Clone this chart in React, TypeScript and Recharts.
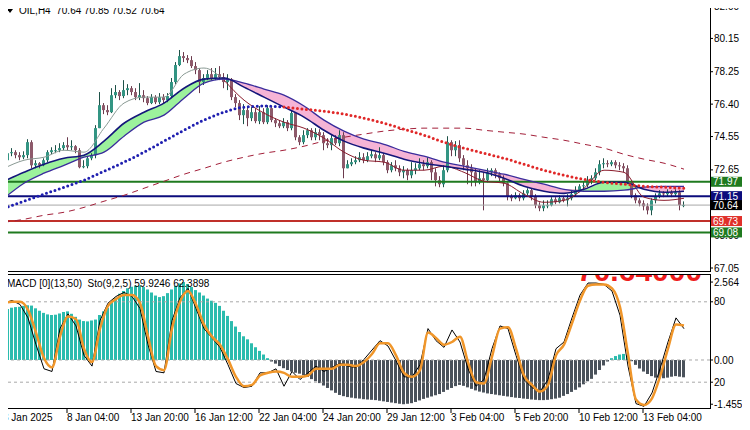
import { ComposedChart, Bar, Line, Area, XAxis, YAxis, ReferenceLine, Cell } from 'recharts';

// OIL H4 candles, 3 Jan - 13 Feb 2025 (open = previous close)
const firstOpen = 72.51;
const closes = [
  73.20, 73.60, 73.66, 73.49, 73.37, 73.49, 74.23, 72.91, 73.03, 72.91,
  73.20, 73.66, 73.77, 73.77, 73.89, 74.06, 73.94, 74.00, 73.77, 72.80,
  72.86, 73.31, 73.49, 75.03, 76.34, 76.06, 75.94, 76.91, 77.09, 76.86,
  77.20, 77.31, 77.09, 76.80, 76.91, 76.74, 76.46, 76.80, 76.51, 76.80,
  76.63, 76.86, 77.66, 78.63, 79.14, 79.03, 78.91, 78.57, 78.34, 77.66,
  77.89, 78.11, 77.89, 78.11, 77.94, 77.66, 77.83, 76.80, 76.46, 75.77,
  76.06, 75.60, 75.94, 75.43, 75.94, 75.37, 76.17, 75.49, 75.31, 75.14,
  75.37, 75.03, 75.89, 74.51, 74.23, 74.63, 74.91, 74.51, 74.80, 74.63,
  74.17, 74.06, 74.46, 74.17, 74.63, 72.74, 72.97, 73.09, 73.20, 73.37,
  73.20, 73.43, 73.54, 73.31, 73.49, 73.09, 72.63, 72.91, 72.74, 72.51,
  72.63, 72.34, 72.63, 72.74, 72.97, 72.86, 73.09, 72.51, 72.06, 71.83,
  72.63, 74.23, 73.77, 74.06, 73.31, 72.91, 72.74, 72.51, 71.94, 72.17,
  72.06, 72.51, 72.63, 72.40, 72.17, 71.89, 71.14, 71.03, 71.20, 71.03,
  71.31, 71.49, 71.14, 70.63, 70.46, 70.63, 70.63, 70.97, 70.80, 71.03,
  70.91, 71.03, 71.26, 71.49, 71.71, 71.77, 72.06, 72.17, 72.51, 72.97,
  73.03, 72.97, 73.09, 72.91, 72.86, 72.74, 71.94, 71.20, 70.91, 70.74,
  70.57, 70.34, 70.91, 71.14, 71.31, 71.26, 71.37, 71.26, 71.37, 70.64,
  70.64,
];
const highs = [
  73.49, 73.77, 73.89, 73.77, 73.66, 73.71, 74.40, 74.34, 73.20, 73.09,
  73.31, 73.77, 73.94, 74.06, 74.17, 74.23, 74.51, 74.34, 74.06, 73.89,
  73.20, 73.43, 73.60, 75.20, 77.09, 76.46, 76.34, 77.31, 77.49, 77.20,
  77.77, 77.54, 77.43, 77.31, 77.60, 77.20, 76.86, 76.97, 76.91, 77.03,
  76.97, 77.03, 77.89, 78.80, 79.49, 79.37, 79.20, 79.14, 78.80, 78.46,
  78.11, 78.34, 78.46, 78.46, 78.57, 78.17, 78.11, 77.89, 76.97, 76.63,
  76.40, 76.29, 76.23, 76.17, 76.29, 76.17, 76.34, 76.23, 75.60, 75.49,
  75.60, 75.49, 76.06, 75.94, 74.63, 74.91, 75.03, 75.03, 75.03, 74.97,
  74.80, 74.46, 74.63, 74.63, 74.91, 74.80, 73.20, 73.31, 73.43, 73.66,
  73.60, 73.66, 73.77, 73.66, 73.94, 73.60, 73.20, 73.09, 73.20, 72.91,
  72.86, 72.74, 73.09, 73.03, 73.31, 73.20, 73.37, 73.20, 72.74, 72.29,
  72.91, 74.57, 74.34, 74.29, 74.34, 73.49, 73.20, 72.97, 72.74, 72.63,
  72.51, 72.74, 72.74, 72.74, 72.51, 72.34, 71.94, 71.26, 71.37, 71.31,
  71.49, 71.60, 71.60, 71.26, 70.80, 70.91, 70.91, 71.09, 71.09, 71.20,
  71.14, 71.26, 71.49, 71.71, 71.83, 72.00, 72.29, 72.34, 72.74, 73.20,
  73.31, 73.20, 73.20, 73.20, 73.09, 73.03, 72.91, 72.06, 71.31, 71.03,
  70.91, 70.74, 71.03, 71.31, 71.49, 71.43, 71.54, 71.49, 71.54, 71.49,
  70.85,
];
const lows = [
  72.34, 73.09, 73.43, 73.31, 73.20, 73.26, 73.31, 72.74, 72.74, 72.74,
  72.86, 73.09, 73.54, 73.60, 73.66, 73.77, 73.77, 73.77, 73.60, 72.74,
  72.74, 72.74, 73.20, 73.31, 75.03, 75.83, 75.77, 75.89, 76.74, 76.63,
  76.74, 76.91, 76.91, 76.63, 76.63, 76.51, 76.34, 76.40, 76.40, 76.40,
  76.46, 76.51, 76.74, 77.54, 78.57, 78.80, 78.74, 78.46, 78.11, 77.03,
  77.49, 77.77, 77.77, 77.77, 77.77, 77.31, 77.20, 76.63, 76.23, 75.49,
  75.26, 75.14, 75.43, 75.31, 75.26, 75.26, 75.26, 75.37, 75.09, 75.03,
  75.03, 74.86, 74.91, 74.34, 74.06, 74.11, 74.46, 74.34, 74.34, 74.34,
  73.77, 73.89, 73.77, 74.06, 74.00, 72.17, 72.74, 72.86, 72.97, 73.09,
  73.03, 73.09, 73.31, 73.09, 73.20, 72.91, 72.46, 72.51, 72.57, 72.29,
  72.17, 72.06, 72.17, 72.40, 72.63, 72.63, 72.74, 72.06, 71.71, 71.66,
  71.66, 72.51, 73.43, 73.43, 73.09, 72.63, 71.83, 71.71, 71.71, 71.83,
  70.34, 71.94, 72.29, 72.17, 71.94, 71.71, 70.91, 70.86, 70.97, 70.86,
  70.91, 71.20, 70.91, 70.46, 70.29, 70.29, 70.46, 70.57, 70.69, 70.74,
  70.80, 70.57, 70.91, 71.14, 71.37, 71.49, 71.66, 71.83, 72.06, 72.34,
  72.74, 72.80, 72.86, 72.74, 72.63, 72.51, 71.83, 71.03, 70.74, 70.57,
  70.34, 70.11, 70.06, 70.74, 71.03, 71.09, 71.14, 71.09, 71.14, 70.34,
  70.52,
];

// moving averages, read every 5th bar
const maFast = [
  72.00, 72.51, 72.97, 73.31, 73.49, 74.29, 75.31, 75.94, 76.46, 77.31,
  77.83, 77.89, 77.37, 76.80, 76.23, 75.66, 74.91, 74.29, 73.89, 73.60,
  73.26, 73.03, 72.86, 72.69, 72.51, 72.17, 71.71, 71.43, 71.31, 71.54,
  71.94, 71.94, 71.54, 71.37, 71.43,
];
const maSlow = [
  71.03, 71.89, 72.46, 72.91, 73.37, 73.66, 74.57, 75.37, 75.77, 76.74,
  77.60, 77.83, 77.60, 77.26, 76.91, 76.29, 75.49, 74.86, 74.40, 74.11,
  73.71, 73.43, 73.09, 72.86, 72.63, 72.40, 72.11, 71.83, 71.54, 71.43,
  71.43, 71.49, 71.66, 71.71, 71.71,
];
const maThin = [
  72.74, 73.20, 73.37, 73.77, 73.66, 75.03, 76.46, 76.80, 76.80, 78.11,
  78.46, 77.77, 76.63, 75.89, 75.37, 75.03, 74.46, 73.66, 73.20, 73.09,
  72.63, 72.63, 72.86, 72.51, 72.00, 71.89, 71.26, 70.80, 70.91, 71.60,
  72.63, 72.51, 71.09, 70.91, 71.03,
];
const maDotted = [
  70.46, 70.86, 71.26, 71.66, 72.06, 72.57, 73.09, 73.66, 74.29, 74.91,
  75.49, 75.94, 76.23, 76.29, 76.23, 76.11, 76.00, 75.83, 75.60, 75.31,
  74.97, 74.63, 74.23, 73.89, 73.60, 73.31, 72.97, 72.63, 72.34, 72.11,
  71.94, 71.83, 71.71, 71.66, 71.60,
];
const maLong = [
  69.66, 69.83, 70.06, 70.23, 70.51, 70.86, 71.20, 71.60, 72.00, 72.40,
  72.74, 73.09, 73.37, 73.60, 73.77, 74.00, 74.29, 74.51, 74.69, 74.86,
  74.97, 75.03, 75.03, 75.03, 74.91, 74.80, 74.69, 74.51, 74.34, 74.11,
  73.89, 73.54, 73.26, 73.03, 72.69,
];
const thinTurn = 11;
const dotTurn = 14;

// MACD histogram, one per bar
const macdHist = [
  1.55, 1.68, 1.72, 1.74, 1.75, 1.78, 1.80, 1.79, 1.70, 1.62,
  1.55, 1.50, 1.48, 1.49, 1.53, 1.58, 1.60, 1.52, 1.42, 1.33,
  1.28, 1.27, 1.30, 1.33, 1.48, 1.60, 1.72, 1.90, 2.05, 2.18,
  2.27, 2.36, 2.41, 2.44, 2.45, 2.40, 2.32, 2.22, 2.12, 2.07,
  2.10, 2.20, 2.32, 2.44, 2.52, 2.564, 2.50, 2.40, 2.30, 2.22,
  2.12, 2.02, 1.95, 1.88, 1.78, 1.62, 1.45, 1.28, 1.10, 0.92,
  0.78, 0.68, 0.55, 0.42, 0.30, 0.18, 0.06, -0.05, -0.12, -0.20,
  -0.27, -0.33, -0.38, -0.42, -0.45, -0.50, -0.56, -0.63, -0.70, -0.76,
  -0.84, -0.92, -1.00, -1.08, -1.15, -1.19, -1.22, -1.24, -1.26, -1.27,
  -1.29, -1.30, -1.31, -1.32, -1.34, -1.36, -1.38, -1.40, -1.42, -1.44,
  -1.455, -1.44, -1.42, -1.38, -1.33, -1.28, -1.24, -1.20, -1.16, -1.12,
  -1.05, -0.98, -0.92, -0.86, -0.82, -0.85, -0.90, -0.95, -1.00, -1.04,
  -1.07, -1.10, -1.12, -1.14, -1.16, -1.18, -1.20, -1.22, -1.24, -1.25,
  -1.27, -1.28, -1.30, -1.31, -1.32, -1.32, -1.31, -1.29, -1.27, -1.24,
  -1.18, -1.12, -1.05, -0.98, -0.90, -0.80, -0.70, -0.62, -0.48, -0.33,
  -0.18, -0.05, 0.06, 0.13, 0.18, 0.20, 0.14, -0.04, -0.16, -0.28,
  -0.38, -0.46, -0.53, -0.58, -0.60, -0.60, -0.58, -0.55, -0.53, -0.55,
  -0.57,
];

// stochastic, read every 2nd bar
const stochMain = [
  79, 81, 78, 68, 48, 30, 28, 60, 71, 62,
  40, 32, 66, 79, 84, 87, 84, 75, 48, 28,
  27, 66, 83, 90, 75, 60, 53, 46, 33, 19,
  16, 17, 27, 27, 30, 17, 28, 22, 27, 32,
  28, 31, 34, 32, 31, 37, 44, 51, 47, 36,
  24, 24, 33, 60, 51, 46, 59, 50, 30, 17,
  22, 45, 62, 60, 40, 22, 16, 13, 22, 45,
  50, 68, 85, 94, 94, 93, 88, 70, 32, 4,
  2, 12, 30, 50, 68, 59.92,
];
const stochSignal = [
  79, 80, 80, 74, 57, 38, 31, 54, 69, 67,
  45, 35, 60, 77, 82, 85, 85, 79, 54, 32,
  29, 60, 80, 88, 78, 63, 54, 48, 37, 24,
  17, 18, 25, 27, 28, 27, 24, 24, 25, 30,
  30, 30, 33, 33, 32, 35, 41, 49, 49, 40,
  27, 24, 29, 57, 53, 48, 50, 54, 35, 20,
  19, 39, 60, 61, 45, 25, 18, 13, 18, 40,
  48, 64, 81, 92, 93, 93, 90, 76, 41, 7,
  3, 8, 24, 45, 63, 62.39,
];

const levelPrices = [71.97, 71.15, 70.64, 69.73, 69.08];
const priceTicks = [82.0, 80.15, 78.25, 76.4, 74.55, 72.65, 68.9, 67.05];
const macdTicks = [2.564, 0, -1.455];
const stochLevels = [80, 20];
const dateTicks = [0, 16, 32, 48, 64, 80, 96, 112, 128, 144, 160];
const dateLabels = [
  '3 Jan 2025', '8 Jan 04:00', '13 Jan 20:00', '16 Jan 12:00', '22 Jan 04:00', '24 Jan 20:00',
  '29 Jan 12:00', '3 Feb 04:00', '5 Feb 20:00', '10 Feb 12:00', '13 Feb 04:00',
];

const priceRows = closes.map((c, i) => {
  const row: any = {
    i, c, o: i === 0 ? firstOpen : closes[i - 1], h: highs[i], l: lows[i],
    span: [lows[i], highs[i]],
  };
  if (i % 5 === 0) {
    const k = i / 5;
    const top = Math.max(maFast[k], maSlow[k]);
    row.fast = maFast[k];
    row.slow = maSlow[k];
    row.green = [maSlow[k], top];
    row.pink = [maFast[k], top];
    if (k <= thinTurn) row.thinUp = maThin[k];
    if (k >= thinTurn) row.thinDn = maThin[k];
    if (k <= dotTurn) row.dotUp = maDotted[k];
    if (k >= dotTurn) row.dotDn = maDotted[k];
    row.long = maLong[k];
  }
  return row;
});

const oscRows = macdHist.map((m, i) => ({
  i,
  macd: m,
  k: i % 2 === 0 ? stochMain[i / 2] : null,
  d: i % 2 === 0 ? stochSignal[i / 2] : null,
}));

const FONT = 'Liberation Sans, Arial, sans-serif';
const X_DOMAIN = [-0.5, 176.5];
const Y_DOMAIN = [67.05, 82];
const MAIN_MARGIN = { top: 6, right: 0, bottom: 10, left: 2 };
const levelColors = ['#1f7a1f', '#0c0c7c', '#000000', '#e0302a', '#1f7a1f'];
const lineColors = ['#1f7a1f', '#0c0c7c', '#a8a8a8', '#c0302a', '#1f7a1f'];

const Candle = (props: any) => {
  const { x, y, width, height, payload } = props;
  const { o, c } = payload;
  const hi = Math.max(payload.h, o, c);
  const lo = Math.min(payload.l, o, c);
  const top = Math.min(y, y + height);
  const bot = Math.max(y, y + height);
  const pix = (p: number) => (hi === lo ? top : top + ((hi - p) / (hi - lo)) * (bot - top));
  const up = c >= o;
  const bx = Math.round(x);
  const b1 = pix(Math.max(o, c));
  const b2 = pix(Math.min(o, c));
  return (
    <g>
      <line x1={bx + 1.5} x2={bx + 1.5} y1={top} y2={bot} stroke={up ? '#1d5248' : '#6b3a4d'} />
      <rect x={bx} y={b1} width={3} height={Math.max(1, b2 - b1)} fill={up ? '#339583' : '#8e5a6b'} />
    </g>
  );
};

const PriceBox = (props: any) => {
  const { viewBox, text, bg } = props;
  const x = viewBox.x + viewBox.width + 1;
  const y = viewBox.y;
  return (
    <g>
      <rect x={x} y={y - 5} width={36} height={10} fill={bg} />
      <text x={x + 2} y={y + 3.5} fontSize={10} fill="#fff" fontFamily={FONT}>{text}</text>
    </g>
  );
};

const SideLabel = (props: any) => {
  const { viewBox, text } = props;
  return (
    <g>
      <line x1={viewBox.x + viewBox.width} x2={viewBox.x + viewBox.width + 3} y1={viewBox.y} y2={viewBox.y} stroke="#000" />
      <text x={viewBox.x + viewBox.width + 4} y={viewBox.y + 3.5} fontSize={10} fill="#000" fontFamily={FONT}>{text}</text>
    </g>
  );
};

const DateTick = (props: any) => {
  const { x, y, payload } = props;
  const idx = dateTicks.indexOf(payload.value);
  return (
    <g>
      <line x1={x - 1} x2={x - 1} y1={y - 5} y2={y - 1} stroke="#000" />
      <text x={x - 1} y={y + 7} fontSize={10} fill="#000" fontFamily={FONT}>{dateLabels[idx]}</text>
    </g>
  );
};

export default function App() {
  return (
    <div style={{ position: 'relative', width: 750, height: 430, margin: -8, background: '#fff', overflow: 'hidden', fontFamily: FONT }}>
      <div style={{ position: 'absolute', left: 0, top: 0 }}>
        <ComposedChart width={750} height={278} data={priceRows} margin={MAIN_MARGIN}>
          <XAxis dataKey="i" type="number" domain={X_DOMAIN} hide />
          <YAxis
            orientation="right"
            width={40}
            domain={Y_DOMAIN}
            ticks={priceTicks}
            interval={0}
            allowDataOverflow
            axisLine={false}
            tickSize={3}
            tickMargin={1}
            tickLine={{ stroke: '#000' }}
            tick={{ fontSize: 10, fill: '#000', fontFamily: FONT }}
            tickFormatter={(v: number) => v.toFixed(2)}
          />
          <Area dataKey="green" type="monotone" stroke="none" fill="#9cf29c" fillOpacity={1} connectNulls isAnimationActive={false} />
          <Area dataKey="pink" type="monotone" stroke="none" fill="#f6b4d6" fillOpacity={1} connectNulls isAnimationActive={false} />
          {levelPrices.map((p, n) => (
            <ReferenceLine key={p} y={p} stroke={lineColors[n]} strokeWidth={n === 2 ? 1 : 2} />
          ))}
          <Line dataKey="long" type="monotone" stroke="#a3203a" strokeWidth={1} strokeDasharray="6 5" dot={false} connectNulls isAnimationActive={false} />
          <Bar dataKey="span" barSize={3} shape={<Candle />} isAnimationActive={false} />
          <Line dataKey="thinUp" type="monotone" stroke="#8a9a94" strokeWidth={1} dot={false} connectNulls isAnimationActive={false} />
          <Line dataKey="thinDn" type="monotone" stroke="#8b1c2c" strokeWidth={1} dot={false} connectNulls isAnimationActive={false} />
          <Line dataKey="slow" type="monotone" stroke="#3a2c9c" strokeWidth={1.3} dot={false} connectNulls isAnimationActive={false} />
          <Line dataKey="fast" type="monotone" stroke="#14167a" strokeWidth={1.6} dot={false} connectNulls isAnimationActive={false} />
          <Line dataKey="dotUp" type="monotone" stroke="#1f1fb0" strokeWidth={3} strokeDasharray="0 4.5" strokeLinecap="round" dot={false} connectNulls isAnimationActive={false} />
          <Line dataKey="dotDn" type="monotone" stroke="#e02828" strokeWidth={3} strokeDasharray="0 4.5" strokeLinecap="round" dot={false} connectNulls isAnimationActive={false} />
        </ComposedChart>
      </div>

      {/* price boxes on the right scale, drawn above the tick labels */}
      <div style={{ position: 'absolute', left: 0, top: 0 }}>
        <ComposedChart width={750} height={278} data={priceRows} margin={MAIN_MARGIN}>
          <XAxis dataKey="i" type="number" domain={X_DOMAIN} hide />
          <YAxis orientation="right" width={40} domain={Y_DOMAIN} allowDataOverflow axisLine={false} tickLine={false} tick={false} />
          {levelPrices.map((p, n) => (
            <ReferenceLine key={p} y={p} stroke="none" label={<PriceBox text={p.toFixed(2)} bg={levelColors[n]} />} />
          ))}
        </ComposedChart>
      </div>

      <div style={{ position: 'absolute', left: 0, top: 272 }}>
        <ComposedChart width={750} height={158} data={oscRows} margin={{ top: 3, right: 0, bottom: 0, left: 2 }}>
          <XAxis
            dataKey="i"
            type="number"
            domain={X_DOMAIN}
            ticks={dateTicks}
            interval={0}
            height={21}
            axisLine={false}
            tickLine={false}
            tickSize={5}
            tickMargin={0}
            tick={<DateTick />}
          />
          <YAxis yAxisId="s" hide domain={[0, 100]} />
          <YAxis
            yAxisId="m"
            orientation="right"
            width={40}
            domain={[-1.612, 2.796]}
            ticks={macdTicks}
            interval={0}
            allowDataOverflow
            axisLine={false}
            tickSize={3}
            tickMargin={1}
            tickLine={{ stroke: '#000' }}
            tick={{ fontSize: 10, fill: '#000', fontFamily: FONT }}
            tickFormatter={(v: number) => (v === 0 ? '0.00' : String(v))}
          />
          <Bar yAxisId="m" dataKey="macd" barSize={3} isAnimationActive={false}>
            {oscRows.map((r) => (
              <Cell key={r.i} fill={r.macd >= 0 ? '#2bbcae' : '#4a525b'} />
            ))}
          </Bar>
          <ReferenceLine yAxisId="m" y={0} stroke="#a8a8a8" strokeDasharray="3 3" />
          {stochLevels.map((v) => (
            <ReferenceLine key={v} yAxisId="s" y={v} stroke="#a8a8a8" strokeDasharray="3 3" label={<SideLabel text={String(v)} />} />
          ))}
          <Line yAxisId="s" dataKey="k" type="linear" stroke="#000" strokeWidth={1} dot={false} connectNulls isAnimationActive={false} />
          <Line yAxisId="s" dataKey="d" type="monotone" stroke="#f0962a" strokeWidth={2.5} dot={false} connectNulls isAnimationActive={false} />
        </ComposedChart>
      </div>

      <svg width={750} height={430} style={{ position: 'absolute', left: 0, top: 0, pointerEvents: 'none' }}>
        <defs>
          <clipPath id="subClip">
            <rect x={3} y={275} width={707} height={133} />
          </clipPath>
        </defs>
        <text x={577} y={281} fontSize={30} fontWeight="bold" fontFamily={FONT} fill="#ee1c1c" clipPath="url(#subClip)">70.64000</text>
        <rect x={2.5} y={2.5} width={708} height={269} fill="none" stroke="#000" />
        <rect x={2.5} y={274.5} width={708} height={134} fill="none" stroke="#000" />
        <polygon points="7,9 13,9 10,13" fill="#000" />
        <text x={19} y={14} fontSize={10} fontFamily={FONT} fill="#000" style={{ whiteSpace: 'pre' }}>OIL,H4  70.64 70.85 70.52 70.64</text>
        <text x={7} y={287} fontSize={10} fontFamily={FONT} fill="#000" style={{ whiteSpace: 'pre' }}>MACD [0](13,50)  Sto(9,2,5) 59.9246 62.3898</text>
      </svg>
    </div>
  );
}
